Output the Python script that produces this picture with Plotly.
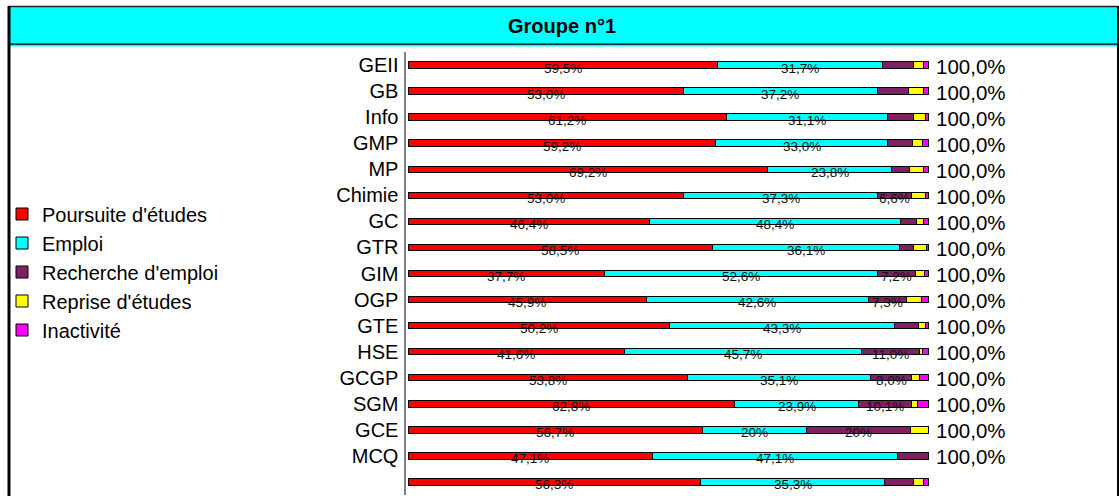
import plotly.graph_objects as go

W, H = 1119, 496

categories = ["GEII", "GB", "Info", "GMP", "MP", "Chimie", "GC", "GTR", "GIM", "OGP",
              "GTE", "HSE", "GCGP", "SGM", "GCE", "MCQ", " "]

poursuite = [59.5, 53.0, 61.2, 59.2, 69.2, 53.0, 46.4, 58.5, 37.7, 45.9, 50.2, 41.6, 53.8, 62.8, 56.7, 47.1, 56.3]
emploi    = [31.7, 37.2, 31.1, 33.0, 23.8, 37.3, 48.4, 36.1, 52.6, 42.6, 43.3, 45.7, 35.1, 23.9, 20.0, 47.1, 35.3]
recherche = [6.0, 6.0, 5.0, 4.9, 3.5, 6.6, 3.0, 2.7, 7.2, 7.3, 4.6, 11.0, 8.0, 10.1, 20.0, 5.8, 5.7]
reprise   = [2.0, 2.9, 2.3, 1.9, 2.6, 2.6, 1.4, 2.4, 1.8, 3.0, 1.5, 0.7, 1.5, 1.2, 3.3, 0.0, 1.9]
inactiv   = [0.8, 0.9, 0.4, 1.0, 0.9, 0.5, 0.8, 0.3, 0.7, 1.2, 0.4, 1.0, 1.6, 2.0, 0.0, 0.0, 0.8]

lab_poursuite = ["59,5%", "53,0%", "61,2%", "59,2%", "69,2%", "53,0%", "46,4%", "58,5%", "37,7%", "45,9%",
                 "50,2%", "41,6%", "53,8%", "62,8%", "56,7%", "47,1%", "56,3%"]
lab_emploi = ["31,7%", "37,2%", "31,1%", "33,0%", "23,8%", "37,3%", "48,4%", "36,1%", "52,6%", "42,6%",
              "43,3%", "45,7%", "35,1%", "23,9%", "20%", "47,1%", "35,3%"]
lab_recherche = ["", "", "", "", "", "6,6%", "", "", "7,2%", "7,3%", "", "11,0%", "8,0%", "10,1%", "20%", "", ""]
total_labels = ["100,0%"] * 16 + [""]

series = [
    ("Poursuite d'études", poursuite, "#FF0000", lab_poursuite),
    ("Emploi", emploi, "#00FFFF", lab_emploi),
    ("Recherche d'emploi", recherche, "#7F2060", lab_recherche),
    ("Reprise d'études", reprise, "#FFFF00", None),
    ("Inactivité", inactiv, "#FF00FF", None),
]

FONT = "Liberation Sans, Arial, sans-serif"

fig = go.Figure()
for name, vals, col, _ in series:
    fig.add_trace(go.Bar(
        y=categories, x=vals, name=name, orientation="h",
        marker=dict(color=col, line=dict(color="#000000", width=1)),
        width=0.25, hoverinfo="x+name",
    ))

annotations = []
# segment labels
base = [0.0] * len(categories)
for name, vals, col, labs in series:
    for i, v in enumerate(vals):
        if labs is not None and labs[i]:
            annotations.append(dict(
                x=base[i] + v / 2, y=categories[i], xref="x", yref="y",
                text=labs[i], showarrow=False, yshift=-3, xanchor="center", yanchor="middle",
                font=dict(family=FONT, size=13.5, color="#111111"),
            ))
    base = [b + v for b, v in zip(base, vals)]

# totals
for i, t in enumerate(total_labels):
    if t:
        annotations.append(dict(
            x=base[i], y=categories[i], xref="x", yref="y",
            text=t, showarrow=False, xanchor="left", yanchor="middle", xshift=6, yshift=-1,
            font=dict(family=FONT, size=20.5, color="#000000"),
        ))

def px(x):
    return x / W

def py(y):
    return 1 - y / H

# title
annotations.append(dict(
    x=px(562), y=py(26), xref="paper", yref="paper", xanchor="center", yanchor="middle",
    text="<b>Groupe n°1</b>", showarrow=False,
    font=dict(family=FONT, size=20, color="#000000"),
))

shapes = [
    # title band
    dict(type="rect", xref="paper", yref="paper", x0=px(9), x1=px(1118), y0=py(46.5), y1=py(6.5),
         fillcolor="#00FFFF", line=dict(width=0), layer="below"),
    dict(type="line", xref="paper", yref="paper", x0=px(9), x1=px(1118), y0=py(44.2), y1=py(44.2),
         line=dict(color="#000000", width=1.2)),
    dict(type="line", xref="paper", yref="paper", x0=px(8), x1=px(1118), y0=py(6.5), y1=py(6.5),
         line=dict(color="#222222", width=1.5)),
    # outer frame sides
    dict(type="line", xref="paper", yref="paper", x0=px(9), x1=px(9), y0=py(6), y1=py(497),
         line=dict(color="#000000", width=3)),
    dict(type="line", xref="paper", yref="paper", x0=px(1118), x1=px(1118), y0=py(6), y1=py(497),
         line=dict(color="#000000", width=2)),
]

scale = 5.2  # px per percent
x_lo, x_hi = -0.3, 100.5
fig.update_layout(
    width=W, height=H,
    margin=dict(l=0, r=0, t=0, b=0, pad=0),
    paper_bgcolor="#FFFFFF", plot_bgcolor="rgba(0,0,0,0)",
    barmode="stack", bargap=0.75,
    font=dict(family=FONT, size=20, color="#000000"),
    xaxis=dict(domain=[px(408 + x_lo * scale), px(408 + x_hi * scale)], range=[x_lo, x_hi],
               visible=False, fixedrange=True),
    yaxis=dict(domain=[py(495), py(52)], type="category", categoryorder="array",
               categoryarray=categories, range=[len(categories) - 0.5, -0.5],
               showline=True, linecolor="#808080", linewidth=2, ticks="", showgrid=False,
               zeroline=False, tickfont=dict(family=FONT, size=20, color="#000000"),
               ticklabelstandoff=2, fixedrange=True),
    legend=dict(x=px(2), y=py(272), xanchor="left", yanchor="middle", traceorder="normal",
                font=dict(family=FONT, size=20, color="#000000"), bgcolor="rgba(0,0,0,0)",
                itemwidth=30, tracegroupgap=0),
    showlegend=True,
    annotations=annotations,
    shapes=shapes,
)

fig.write_html(
    "out.html",
    config={"displayModeBar": False},
    post_script="document.body.style.margin='0';document.body.style.padding='0';",
)
